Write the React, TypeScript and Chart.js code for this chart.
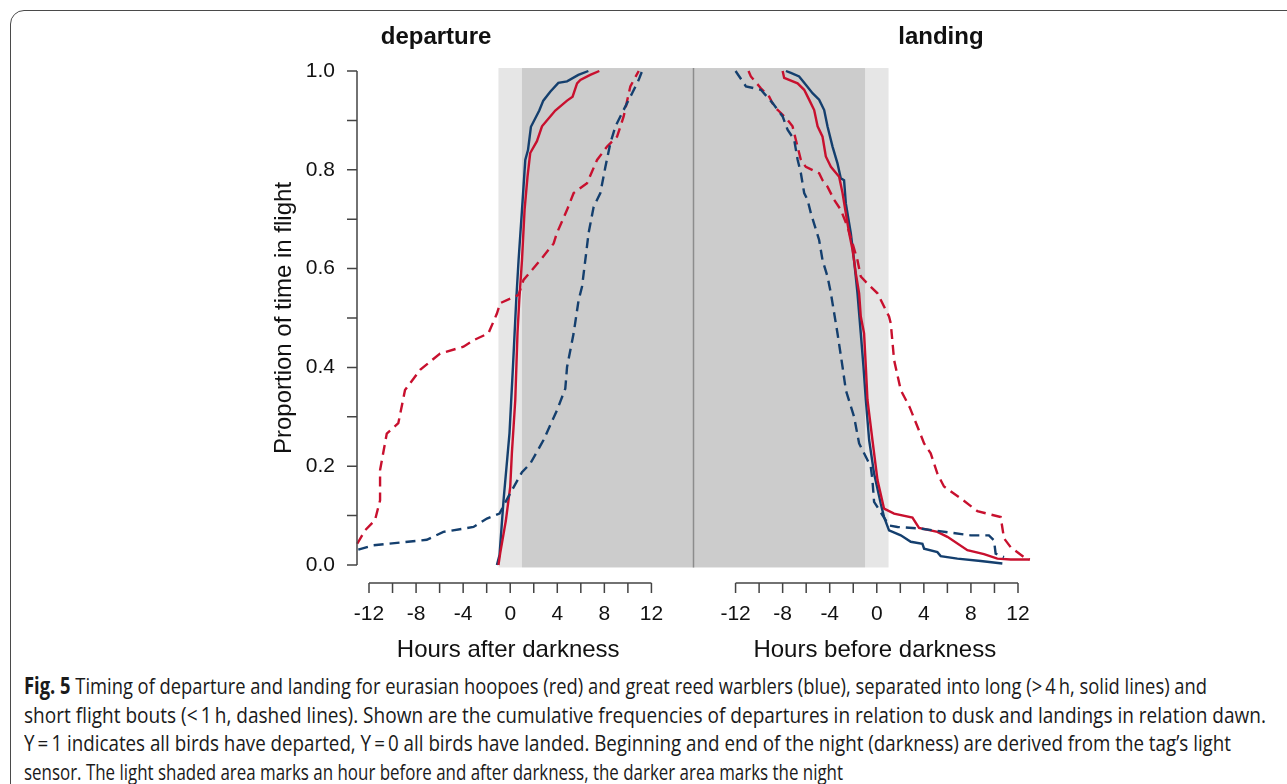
import React, { useEffect, useLayoutEffect, useRef } from 'react';
import { Chart, registerables } from 'chart.js';

Chart.register(...registerables);

// ---------- data (hours relative to darkness, proportion of time in flight) ----------
const depHoopoeLong: [number, number][] = [
  [-1.0, 0], [-0.85, 0.024], [-0.37, 0.09], [0.0, 0.158], [0.14, 0.226], [0.43, 0.334],
  [0.62, 0.47], [0.77, 0.536], [1.0, 0.617], [1.22, 0.719], [1.47, 0.786], [1.7, 0.834],
  [2.27, 0.858], [2.7, 0.888], [3.83, 0.92], [4.83, 0.94], [5.3, 0.948], [5.68, 0.975],
  [5.96, 0.982], [6.8, 0.992], [7.57, 1.0],
];
const depWarblerLong: [number, number][] = [
  [-1.13, 0], [-0.91, 0.02], [-0.57, 0.13], [-0.06, 0.267], [0.23, 0.4], [0.51, 0.536],
  [0.71, 0.617], [1.0, 0.719], [1.28, 0.82], [1.51, 0.84], [1.76, 0.887], [2.47, 0.92],
  [2.81, 0.94], [3.4, 0.958], [4.09, 0.976], [4.83, 0.979], [5.79, 0.992], [6.64, 1.0],
];
const depHoopoeShort: [number, number][] = [
  [-13.0, 0.043], [-12.34, 0.07], [-11.49, 0.091], [-11.06, 0.131], [-11.06, 0.192],
  [-10.49, 0.266], [-9.51, 0.287], [-8.94, 0.354], [-7.66, 0.395], [-5.96, 0.428],
  [-3.97, 0.442], [-3.12, 0.455], [-1.85, 0.469], [-1.13, 0.509], [-0.85, 0.53],
  [0.71, 0.547], [1.13, 0.577], [2.55, 0.617], [3.69, 0.651], [3.97, 0.672], [4.83, 0.719],
  [5.39, 0.753], [6.53, 0.773], [7.38, 0.82], [8.23, 0.847], [9.08, 0.867], [9.64, 0.908],
  [10.21, 0.969], [10.92, 1.0],
];
const depWarblerShort: [number, number][] = [
  [-12.91, 0.031], [-11.63, 0.04], [-7.09, 0.051], [-5.68, 0.067], [-3.12, 0.077],
  [-1.98, 0.094], [-0.91, 0.104], [-0.28, 0.133], [1.0, 0.188], [1.7, 0.205], [2.83, 0.253],
  [3.97, 0.313], [4.68, 0.357], [4.83, 0.401], [5.39, 0.469], [5.81, 0.536], [6.1, 0.563],
  [6.38, 0.617], [6.66, 0.672], [7.09, 0.725], [7.66, 0.753], [8.09, 0.806], [8.51, 0.854],
  [8.94, 0.888], [9.93, 0.935], [10.36, 0.955], [10.92, 0.982], [11.21, 1.0],
];
const landWarblerLong: [number, number][] = [
  [-7.72, 1.0], [-7.3, 0.996], [-6.6, 0.989], [-6.03, 0.972], [-5.46, 0.955], [-4.9, 0.942],
  [-4.47, 0.921], [-4.19, 0.888], [-3.76, 0.847], [-3.34, 0.813], [-3.06, 0.783],
  [-2.78, 0.779], [-2.63, 0.732], [-2.21, 0.672], [-1.93, 0.617], [-1.64, 0.55],
  [-1.36, 0.469], [-1.13, 0.401], [-0.93, 0.334], [-0.65, 0.253], [-0.23, 0.185],
  [0.34, 0.124], [0.62, 0.097], [1.04, 0.07], [2.04, 0.06], [2.89, 0.047], [3.88, 0.043],
  [4.02, 0.033], [5.15, 0.026], [5.43, 0.018], [6.85, 0.013], [8.83, 0.008], [10.67, 0.003],
];
const landHoopoeLong: [number, number][] = [
  [-8.0, 1.0], [-7.87, 0.986], [-6.73, 0.975], [-6.17, 0.962], [-5.75, 0.942], [-5.32, 0.921],
  [-5.03, 0.888], [-4.61, 0.867], [-4.33, 0.827], [-3.9, 0.806], [-3.2, 0.786], [-2.91, 0.753],
  [-2.63, 0.712], [-2.35, 0.672], [-2.06, 0.638], [-1.78, 0.59], [-1.5, 0.55], [-1.36, 0.503],
  [-1.08, 0.469], [-0.93, 0.401], [-0.79, 0.334], [-0.37, 0.253], [0.06, 0.172],
  [0.62, 0.114], [1.47, 0.104], [3.03, 0.096], [3.59, 0.075], [5.15, 0.067], [6.0, 0.057],
  [7.7, 0.03], [9.11, 0.022], [10.25, 0.013], [11.38, 0.011], [13.0, 0.011],
];
const landWarblerShort: [number, number][] = [
  [-12.0, 1.0], [-11.83, 0.994], [-11.12, 0.969], [-9.85, 0.962], [-8.85, 0.935], [-8.0, 0.908],
  [-7.58, 0.881], [-7.02, 0.861], [-6.73, 0.821], [-6.45, 0.793], [-6.17, 0.753],
  [-5.88, 0.739], [-5.6, 0.712], [-4.9, 0.658], [-4.61, 0.617], [-4.19, 0.584], [-3.9, 0.55],
  [-3.34, 0.469], [-2.91, 0.401], [-2.63, 0.354], [-1.93, 0.3], [-1.5, 0.246], [-0.93, 0.219],
  [-0.51, 0.199], [-0.37, 0.172], [-0.23, 0.128], [1.04, 0.08], [1.76, 0.077], [3.59, 0.074],
  [7.98, 0.06], [9.53, 0.06], [9.96, 0.05], [10.1, 0.023], [10.81, 0.016],
];
const landHoopoeShort: [number, number][] = [
  [-10.9, 1.0], [-10.7, 0.989], [-9.85, 0.965], [-9.14, 0.948], [-8.72, 0.928], [-8.15, 0.915],
  [-7.58, 0.901], [-7.16, 0.888], [-6.88, 0.861], [-6.45, 0.82], [-6.03, 0.806], [-4.9, 0.793],
  [-4.61, 0.779], [-4.19, 0.766], [-3.62, 0.739], [-3.06, 0.719], [-2.49, 0.685],
  [-2.06, 0.651], [-1.64, 0.617], [-1.36, 0.584], [-0.93, 0.573], [0.06, 0.55], [1.04, 0.503],
  [1.19, 0.489], [1.47, 0.415], [2.04, 0.354], [2.8, 0.319], [3.46, 0.28], [4.02, 0.246],
  [4.58, 0.226], [5.15, 0.185], [5.71, 0.159], [7.13, 0.135], [8.55, 0.109], [10.53, 0.097],
  [10.81, 0.054], [11.38, 0.036], [12.51, 0.016], [13.0, 0.011],
];

// ---------- axes / labels ----------
const xTickValues = [-12, -10, -8, -6, -4, -2, 0, 2, 4, 6, 8, 10, 12];
const xLabelValues = [-12, -8, -4, 0, 4, 8, 12];
const yTickValues = [0, 0.1, 0.2, 0.3, 0.4, 0.5, 0.6, 0.7, 0.8, 0.9, 1.0];
const yLabelValues = [0, 0.2, 0.4, 0.6, 0.8, 1.0];
const lightBand = [-1, 1]; // an hour before and after darkness
const nightBand = [1, -1]; // from +1 h after dusk (left panel) to -1 h before dawn (right panel)
const panelTitles = ['departure', 'landing'];
const panelTitleHours = [-6.3, 5.45];
const xTitles = ['Hours after darkness', 'Hours before darkness'];
const yTitle = 'Proportion of time in flight';

const PANEL_OFFSET = 31.15; // distance (in hour units) between the two panel origins
const X_MIN = -13.02;
const X_MAX = PANEL_OFFSET + 13.02;

const RED = '#c8102e';
const BLUE = '#143f6e';

const captionLead = 'Fig. 5';
const captionLines = [
  ' Timing of departure and landing for eurasian hoopoes (red) and great reed warblers (blue), separated into long (>\u20094\u2009h, solid lines) and',
  'short flight bouts (<\u20091\u2009h, dashed lines). Shown are the cumulative frequencies of departures in relation to dusk and landings in relation dawn.',
  'Y\u2009=\u20091 indicates all birds have departed, Y\u2009=\u20090 all birds have landed. Beginning and end of the night (darkness) are derived from the tag\u2019s light',
  'sensor. The light shaded area marks an hour before and after darkness, the darker area marks the night',
];
const captionWidths = [1183, 1242, 1207, 819];

const FONT = '"Liberation Sans", Arial, Helvetica, sans-serif';

const decorPlugin = {
  id: 'decor',
  beforeDatasetsDraw(chart: any) {
    const { ctx, scales } = chart;
    const x = scales.x;
    const y = scales.y;
    const top = y.getPixelForValue(1.006);
    const bottom = y.getPixelForValue(-0.005);
    ctx.save();
    ctx.fillStyle = '#e6e6e6';
    for (const off of [0, PANEL_OFFSET]) {
      const a = x.getPixelForValue(lightBand[0] + off);
      const b = x.getPixelForValue(lightBand[1] + off);
      ctx.fillRect(a, top, b - a, bottom - top);
    }
    ctx.fillStyle = '#cccccc';
    const na = x.getPixelForValue(nightBand[0]);
    const nb = x.getPixelForValue(nightBand[1] + PANEL_OFFSET);
    ctx.fillRect(na, top, nb - na, bottom - top);
    const mid = x.getPixelForValue(PANEL_OFFSET / 2);
    ctx.strokeStyle = '#8c8c8c';
    ctx.lineWidth = 1.5;
    ctx.beginPath();
    ctx.moveTo(mid, top);
    ctx.lineTo(mid, bottom);
    ctx.stroke();
    ctx.restore();
  },
  afterDraw(chart: any) {
    const { ctx, scales, chartArea } = chart;
    const x = scales.x;
    const y = scales.y;
    ctx.save();
    ctx.strokeStyle = '#444';
    ctx.lineWidth = 1.5;
    ctx.fillStyle = '#111';

    // y axis
    const ax = chartArea.left;
    ctx.beginPath();
    ctx.moveTo(ax, y.getPixelForValue(1));
    ctx.lineTo(ax, y.getPixelForValue(0));
    for (const v of yTickValues) {
      const py = y.getPixelForValue(v);
      ctx.moveTo(ax, py);
      ctx.lineTo(ax - 10, py);
    }
    ctx.stroke();
    ctx.font = `21px ${FONT}`;
    ctx.textAlign = 'right';
    ctx.textBaseline = 'middle';
    for (const v of yLabelValues) {
      ctx.fillText(v.toFixed(1), ax - 22, y.getPixelForValue(v));
    }

    // x axes (two panels)
    const axisY = y.getPixelForValue(0) + 18;
    [0, PANEL_OFFSET].forEach((off, i) => {
      ctx.beginPath();
      ctx.moveTo(x.getPixelForValue(xTickValues[0] + off), axisY);
      ctx.lineTo(x.getPixelForValue(xTickValues[xTickValues.length - 1] + off), axisY);
      for (const v of xTickValues) {
        const px = x.getPixelForValue(v + off);
        ctx.moveTo(px, axisY);
        ctx.lineTo(px, axisY + 10);
      }
      ctx.stroke();
      ctx.font = `21px ${FONT}`;
      ctx.textAlign = 'center';
      ctx.textBaseline = 'middle';
      for (const v of xLabelValues) {
        ctx.fillText(String(v), x.getPixelForValue(v + off), axisY + 31);
      }
      ctx.font = `24px ${FONT}`;
      ctx.fillText(xTitles[i], x.getPixelForValue(off) - 2, axisY + 67);
      ctx.font = `bold 24px ${FONT}`;
      ctx.fillText(panelTitles[i], x.getPixelForValue(panelTitleHours[i] + off), 37);
    });

    // y title
    ctx.font = `24px ${FONT}`;
    ctx.translate(ax - 73, y.getPixelForValue(0.5));
    ctx.rotate(-Math.PI / 2);
    ctx.textAlign = 'center';
    ctx.textBaseline = 'middle';
    ctx.fillText(yTitle, 0, 0);
    ctx.restore();
  },
};

function line(data: [number, number][], offset: number, color: string, dashed: boolean) {
  return {
    data: data.map(([h, p]) => ({ x: h + offset, y: p })),
    borderColor: color,
    backgroundColor: color,
    borderWidth: 2.4,
    borderDash: dashed ? [10, 6] : [],
    pointRadius: 0,
    tension: 0,
    fill: false,
    clip: 6,
  };
}

function ChartCanvas() {
  const ref = useRef<HTMLCanvasElement | null>(null);
  useEffect(() => {
    if (!ref.current) return;
    const chart = new Chart(ref.current, {
      type: 'line',
      data: {
        datasets: [
          line(depWarblerShort, 0, BLUE, true),
          line(depHoopoeShort, 0, RED, true),
          line(depHoopoeLong, 0, RED, false),
          line(depWarblerLong, 0, BLUE, false),
          line(landWarblerShort, PANEL_OFFSET, BLUE, true),
          line(landHoopoeShort, PANEL_OFFSET, RED, true),
          line(landHoopoeLong, PANEL_OFFSET, RED, false),
          line(landWarblerLong, PANEL_OFFSET, BLUE, false),
        ] as any,
      },
      options: {
        animation: false,
        responsive: false,
        maintainAspectRatio: false,
        events: [],
        layout: { padding: { left: 357, right: 257, top: 71, bottom: 100 } },
        scales: {
          x: { type: 'linear', min: X_MIN, max: X_MAX, display: false },
          y: { type: 'linear', min: 0, max: 1, display: false },
        },
        plugins: { legend: { display: false }, tooltip: { enabled: false } },
      } as any,
      plugins: [decorPlugin],
    });
    return () => chart.destroy();
  }, []);
  return (
    <canvas
      ref={ref}
      width={1287}
      height={665}
      style={{ position: 'absolute', left: 0, top: 0, width: 1287, height: 665, display: 'block' }}
    />
  );
}

function Caption() {
  const refs = useRef<(HTMLDivElement | null)[]>([]);
  useLayoutEffect(() => {
    const fit = () => {
      refs.current.forEach((el, i) => {
        if (!el) return;
        el.style.transform = 'none';
        const w = el.getBoundingClientRect().width;
        if (w > 0) el.style.transform = `scaleX(${captionWidths[i] / w})`;
      });
    };
    fit();
    if ((document as any).fonts && (document as any).fonts.ready) {
      (document as any).fonts.ready.then(fit);
    }
  }, []);
  return (
    <div
      style={{
        position: 'absolute',
        left: 24,
        top: 672,
        fontFamily: '"Open Sans", "Noto Sans", sans-serif',
        fontSize: 22.5,
        lineHeight: '28.7px',
        color: '#1a1a1a',
      }}
    >
      {captionLines.map((t, i) => (
        <div key={i} style={{ height: 28.7 }}>
          <div
            ref={(el) => {
              refs.current[i] = el;
            }}
            style={{ display: 'inline-block', whiteSpace: 'pre', transformOrigin: 'left top' }}
          >
            {i === 0 ? <b>{captionLead}</b> : null}
            {t}
          </div>
        </div>
      ))}
    </div>
  );
}

export default function App() {
  return (
    <div
      style={{
        position: 'fixed',
        left: 0,
        top: 0,
        width: 1287,
        height: 784,
        overflow: 'hidden',
        background: '#ffffff',
      }}
    >
      <div
        style={{
          position: 'absolute',
          left: 10,
          top: 10,
          width: 1320,
          height: 820,
          border: '1.5px solid #4a4a4a',
          borderRadius: 14,
          boxSizing: 'border-box',
        }}
      />
      <ChartCanvas />
      <Caption />
    </div>
  );
}
